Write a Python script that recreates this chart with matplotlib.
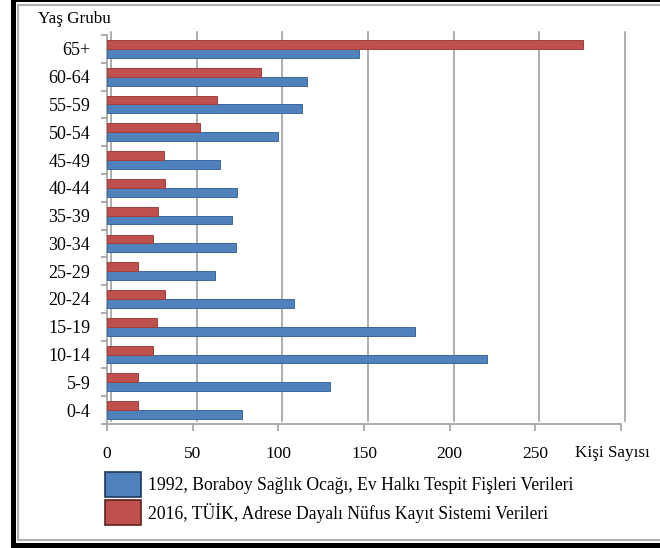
import matplotlib
matplotlib.use("Agg")
import matplotlib.pyplot as plt
import matplotlib.transforms as mtransforms
from matplotlib.patches import Rectangle
from matplotlib.lines import Line2D
import numpy as np

categories = ["0-4", "5-9", "10-14", "15-19", "20-24", "25-29", "30-34",
              "35-39", "40-44", "45-49", "50-54", "55-59", "60-64", "65+"]
values_1992 = [79, 130, 222, 180, 109, 63, 75, 73, 76, 66, 100, 114, 117, 147]
values_2016 = [18, 18, 27, 29, 34, 18, 27, 30, 34, 33, 54, 64, 90, 278]
series_names = ["1992, Boraboy Sağlık Ocağı, Ev Halkı Tespit Fişleri Verileri",
                "2016, TÜİK, Adrese Dayalı Nüfus Kayıt Sistemi Verileri"]
xticks = [0, 50, 100, 150, 200, 250, 300]
xtick_labels = ["0", "50", "100", "150", "200", "250", ""]

plt.rcParams['font.family'] = ['Liberation Serif', 'DejaVu Serif']

W, H = 660, 548
fig = plt.figure(figsize=(W / 100, H / 100), dpi=100)
fig.patch.set_facecolor("white")

def fx(px):
    return px / W

def fy(py):
    return 1 - py / H

ax = fig.add_axes([fx(107), fy(424), fx(621) - fx(107), fy(35) - fy(424)])
ax.set_xlim(0, 300)
ax.set_ylim(-0.5, len(categories) - 0.5)

blue = "#4F81BD"
red = "#C0504D"
blue_edge = "#3D6899"
red_edge = "#9E403D"

# gridlines (back wall, slightly offset like the 3D chart)
off = mtransforms.offset_copy(ax.transData, fig=fig, x=4, y=3, units='dots')
for xv in xticks:
    ax.plot([xv, xv], [-0.5, len(categories) - 0.5], color="#A0A0A0", lw=1.2,
            transform=off, zorder=0, clip_on=False)

y = np.arange(len(categories))
h = 0.32
ax.barh(y - h / 2, values_1992, height=h, color=blue, edgecolor=blue_edge,
        linewidth=0.7, zorder=3)
ax.barh(y + h / 2, values_2016, height=h, color=red, edgecolor=red_edge,
        linewidth=0.7, zorder=3)

for s in ["top", "right"]:
    ax.spines[s].set_visible(False)
for s in ["left", "bottom"]:
    ax.spines[s].set_color("#A0A0A0")
    ax.spines[s].set_linewidth(1.2)

ax.set_xticks(xticks)
ax.set_xticklabels(xtick_labels, fontsize=12.5)
ax.tick_params(axis='x', direction='out', length=5, color="#A0A0A0",
               width=1.2, pad=11)

ax.set_yticks(np.arange(-0.5, len(categories), 1.0))
ax.set_yticklabels([])
ax.tick_params(axis='y', which='major', direction='out', length=4,
               color="#A0A0A0", width=1.2)
ax.set_yticks(y, minor=True)
ax.set_yticklabels(categories, minor=True, fontsize=13)
ax.tick_params(axis='y', which='minor', length=0, pad=12)

fig.text(fx(38), fy(19), "Yaş Grubu", fontsize=12.3, ha="left", va="center")
fig.text(fx(575), fy(453), "Kişi Sayısı", fontsize=12.3, ha="left", va="center")

# legend
leg_colors = [blue, red]
leg_edges = ["#1E3A5F", "#5A2220"]
leg_y = [472, 500]
for name, c, e, ty in zip(series_names, leg_colors, leg_edges, leg_y):
    fig.add_artist(Rectangle((fx(105), fy(ty + 25)), fx(141) - fx(105),
                             fy(ty) - fy(ty + 25), transform=fig.transFigure,
                             facecolor=c, edgecolor=e, linewidth=1.2))
    fig.text(fx(148), fy(ty + 13), name, fontsize=12.7, ha="left", va="center")

# frame
fig.add_artist(Rectangle((fx(11), fy(548)), fx(5), fy(0) - fy(548),
                         transform=fig.transFigure, facecolor="black",
                         edgecolor="none"))
fig.add_artist(Rectangle((fx(11), fy(2)), fx(660) - fx(11), fy(0) - fy(2),
                         transform=fig.transFigure, facecolor="black",
                         edgecolor="none"))
fig.add_artist(Rectangle((fx(11), fy(548)), fx(660) - fx(11), fy(543) - fy(548),
                         transform=fig.transFigure, facecolor="black",
                         edgecolor="none"))
fig.add_artist(Line2D([fx(18), fx(18)], [fy(5), fy(540)], color="#B0B0B0",
                      lw=1.5, transform=fig.transFigure))
fig.add_artist(Line2D([fx(18), fx(660)], [fy(5), fy(5)], color="#B0B0B0",
                      lw=1.5, transform=fig.transFigure))
fig.add_artist(Line2D([fx(18), fx(660)], [fy(540), fy(540)], color="#B0B0B0",
                      lw=1.5, transform=fig.transFigure))

fig.savefig("out.png", dpi=100)
